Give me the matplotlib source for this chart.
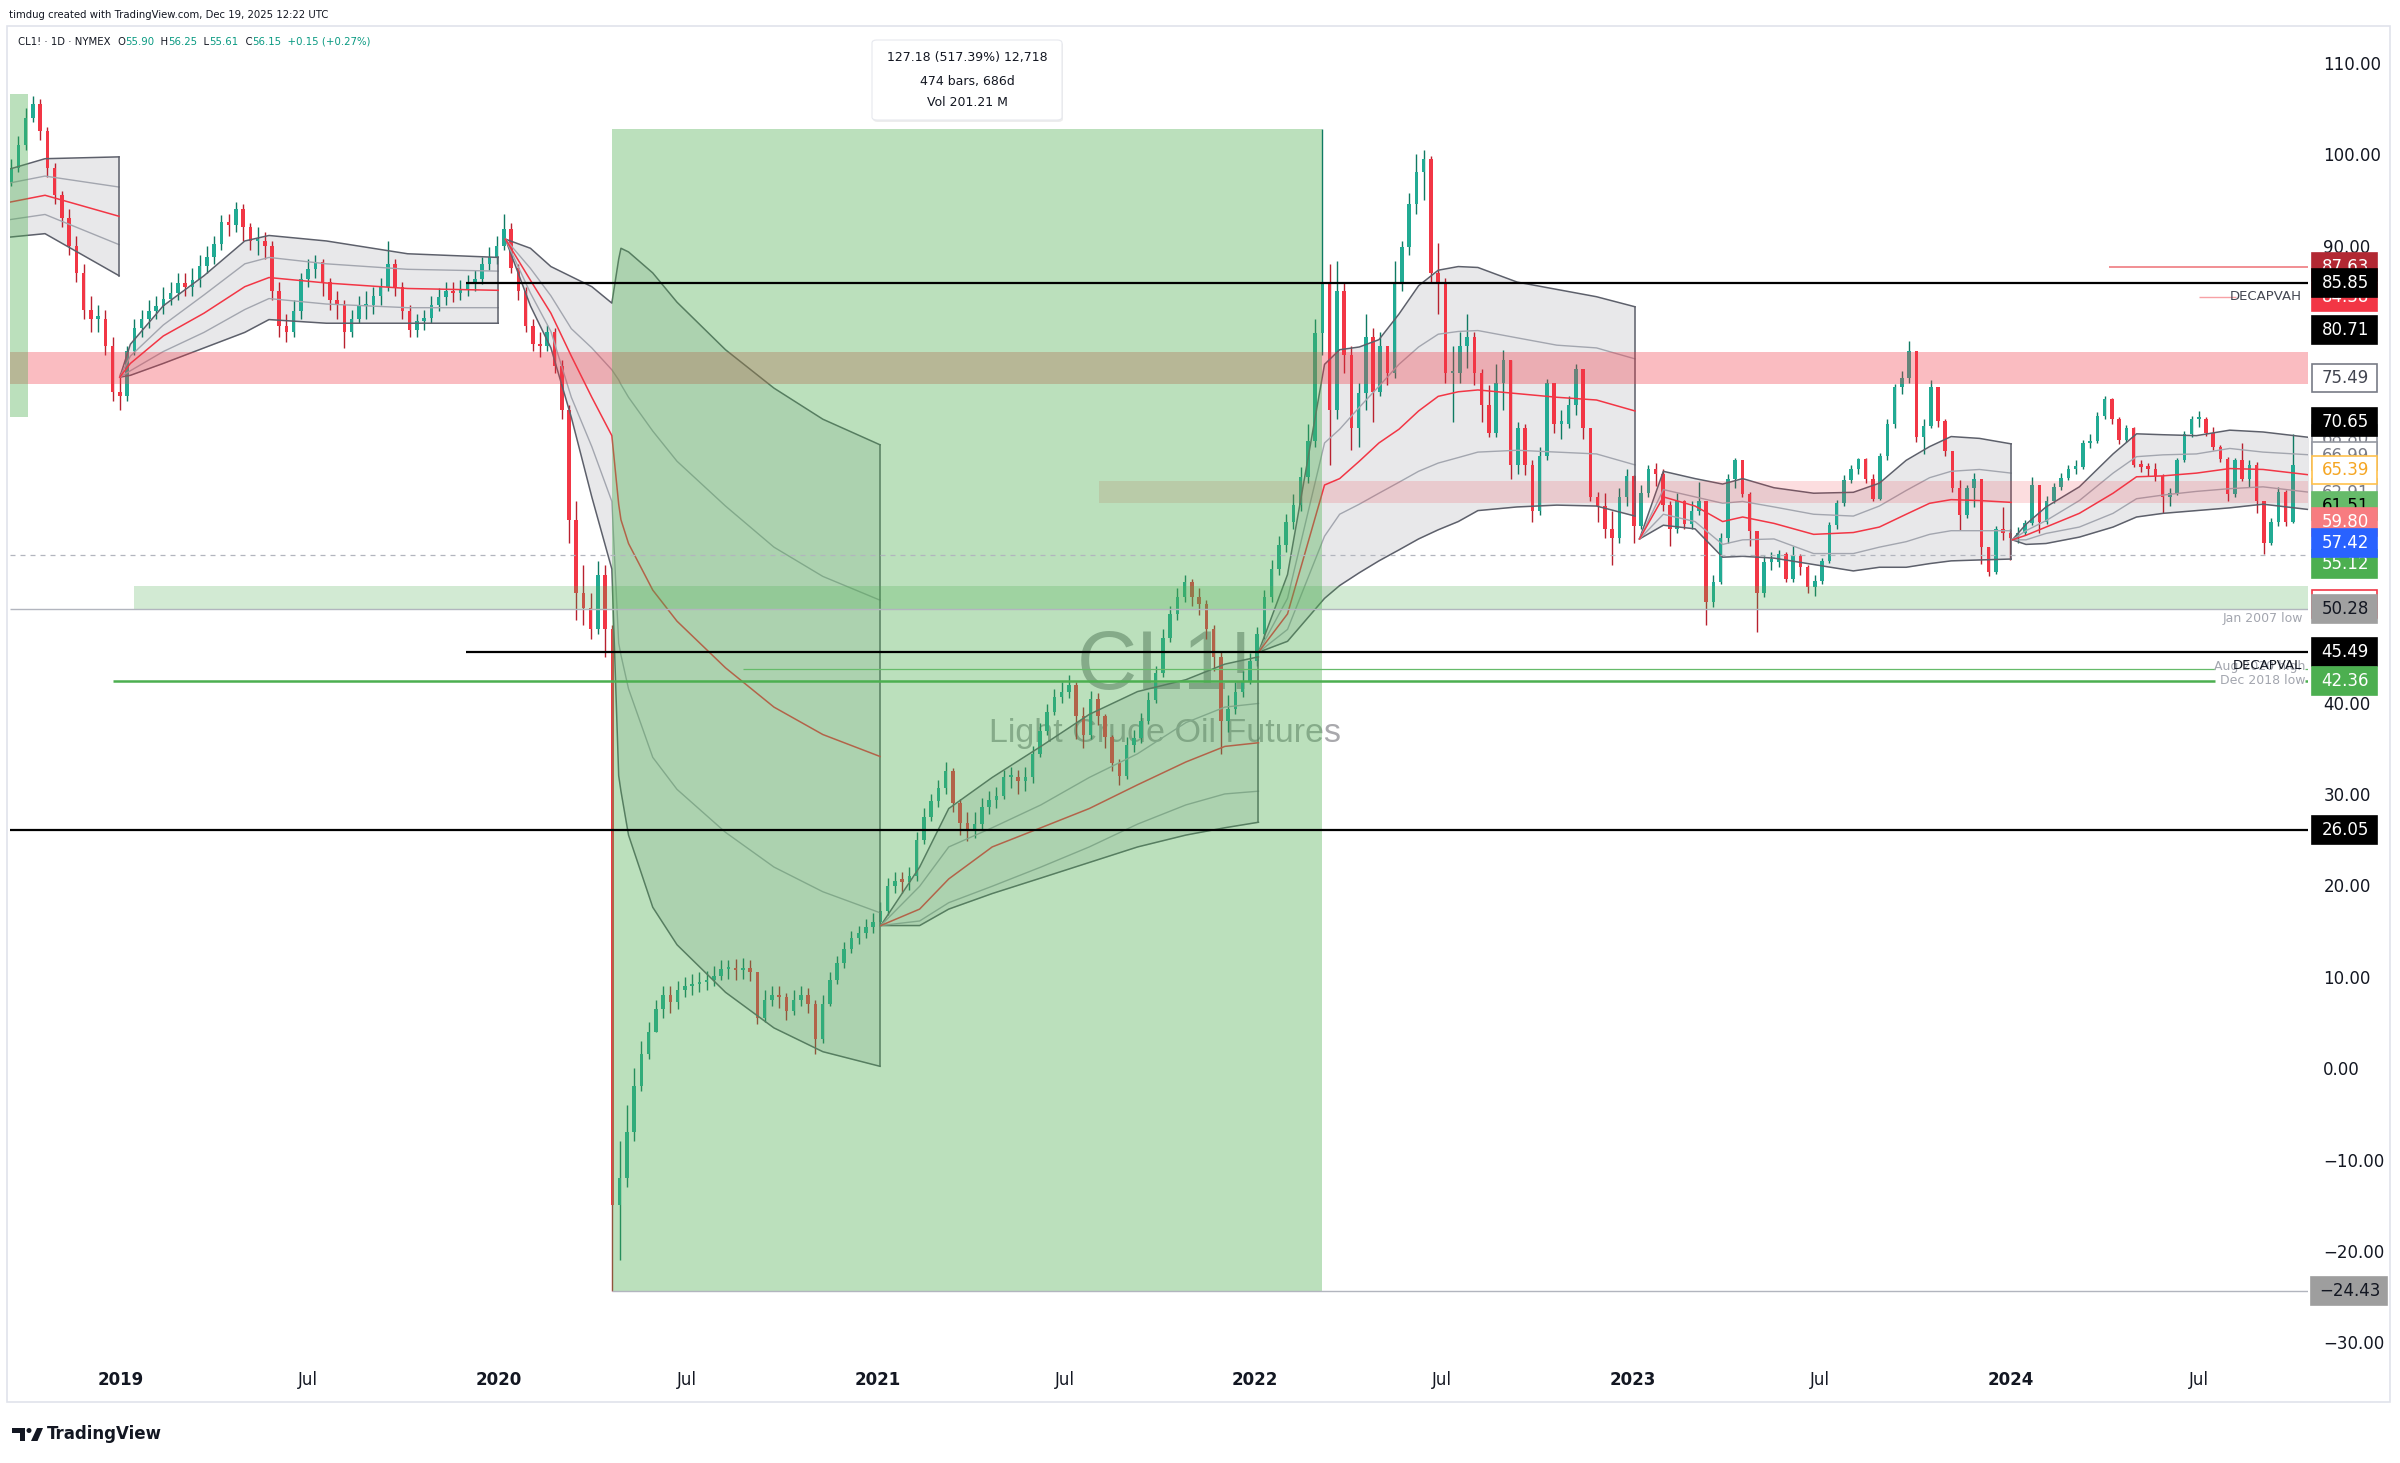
import matplotlib
matplotlib.use("Agg")
import matplotlib.pyplot as plt
import matplotlib.dates as mdates
import matplotlib.transforms as mtransforms
from matplotlib.patches import Rectangle, FancyBboxPatch, Polygon, Ellipse
from datetime import datetime
import numpy as np
import pandas as pd

plt.rcParams['font.family'] = ['DejaVu Sans']

# ---------------------------------------------------------------- data
week_start = "2018-09-17"
first_open = 97.0
closes = [
    98.5, 101, 104, 105.5, 102.5, 98.5, 95.5, 93.0, 90, 87,
    83, 82, 82, 79, 74, 73.5, 78.5, 81, 82, 82.8,
    83.4, 84.2, 84.8, 85.9, 85.5, 86.2, 87.8, 88.8, 90.2, 92.6,
    92.2, 94.0, 92, 90.5, 90.5, 90, 85, 81.2, 80.5, 82.8,
    86.3, 87.4, 88.2, 86, 84, 83.5, 80.5, 82, 83.4, 83.5,
    84.5, 85.5, 88, 85.5, 82.8, 80.8, 81.7, 82.1, 83.5, 84.4,
    85, 84.8, 85.2, 85.9, 86.3, 88, 88.8, 90, 91.8, 87.5,
    85, 81.2, 79.2, 79.0, 80.5, 76.8, 72, 60, 52, 50.3,
    48, 54, 48, -15, -12, -7, -2, 1.5, 4, 6.5,
    8, 7.2, 8.5, 9, 9.2, 9.4, 9.6, 10.1, 10.8, 10.9,
    10.7, 11, 10.5, 5.5, 7.5, 8, 7.8, 6.3, 7.5, 8,
    7, 3.2, 7, 9.6, 11.5, 13, 14.2, 14.8, 15.4, 16,
    17.2, 19.9, 20.5, 20.4, 21, 25, 27.5, 29.2, 30.6, 32.5,
    29, 26.8, 26, 26.7, 28.6, 29.3, 29.8, 31.8, 31.8, 31.4,
    31.8, 34.4, 36.9, 39, 40.6, 41.2, 41.9, 38.5, 36.5, 40.4,
    38.5, 36.2, 33.4, 32, 35.4, 36.1, 38, 40.3, 43.2, 47.1,
    49.7, 51.6, 53.2, 51.5, 50.8, 48, 45, 38, 39.3, 41.2,
    42.4, 44.5, 47.5, 51.5, 54.6, 57.2, 59.7, 61.6, 64.7, 68.6,
    80.4, 86, 72, 85, 78, 70, 73.9, 80, 74, 79,
    76, 86, 89.8, 94.5, 98.1, 99.5, 87, 86, 76, 76,
    79, 80, 76, 72.5, 69.5, 75, 77.5, 66, 70, 66,
    61, 67, 75, 70.5, 70.5, 72.5, 76.5, 70, 62.5, 61.5,
    59, 58, 62.5, 64.8, 59.3, 62.9, 65.6, 65, 61.6, 59,
    62, 59.5, 61, 62, 51, 53.2, 58, 64.5, 66.5, 62.8,
    58.8, 52, 55.4, 55.4, 56.2, 53.5, 56, 54.8, 52.6, 53.3,
    55.5, 59.4, 61.8, 64.3, 65.6, 66.6, 64.5, 62.3, 67, 70.5,
    74.5, 75.5, 78.5, 69, 70.3, 74.5, 70.8, 67.5, 63.5, 60.5,
    63.5, 64.5, 57, 54.3, 59, 58.5, 58, 58.5, 59.6, 63.8,
    59.8, 62.1, 63.6, 64.6, 65.6, 65.8, 68.4, 68.6, 71.4, 73.2,
    71, 68.7, 70, 66, 65.8, 65.6, 64.8, 62.5, 62.9, 66.5,
    69.4, 71, 71, 69.5, 68, 66.6, 62.8, 66.5, 64.5, 66,
    62, 57.5, 59.8, 63, 59.8, 66]
highs = [
    99.5, 102, 105, 106.4, 106, 103, 99, 96, 94, 91,
    88, 84.5, 83.5, 83, 80, 76, 79, 82, 83, 84,
    84.5, 85.5, 86, 87, 87, 87.5, 89, 90, 91, 93.3,
    93.5, 94.8, 94.5, 92.5, 92, 91.5, 90.5, 86, 82.5, 84,
    87, 88.5, 89, 88.5, 86.5, 85, 84, 83, 84.5, 85,
    85.5, 86.5, 90.5, 88.5, 86, 83.5, 82.5, 83, 84.5, 85.3,
    86, 86, 86.2, 86.8, 87.3, 88.8, 89.8, 91, 93.4, 92.5,
    88, 85.5, 82, 80.5, 81.3, 81, 77.5, 72.5, 62, 55,
    52, 55.5, 55, 48.5, -8, -4, 0, 3, 5, 7.5,
    9, 9, 9.5, 10, 10.3, 10.5, 10.6, 11.2, 11.8, 11.8,
    11.9, 12, 11.8, 10.5, 8.5, 9, 9, 8.2, 8.5, 9,
    8.8, 7.5, 8, 10.5, 12.3, 13.8, 15, 15.6, 16.3, 17,
    18.2, 20.8, 21.5, 21.5, 22, 25.8, 28.5, 30, 31.5, 33.5,
    32.8, 29.5, 28, 28, 29.6, 30.3, 30.8, 32.6, 33, 32.6,
    33, 35.2, 37.8, 39.8, 41.5, 42.3, 43, 42.3, 39.5, 41.3,
    41, 38.8, 36.5, 33.8, 36.2, 37, 38.9, 41.2, 44, 48,
    50.6, 52.5, 54, 53.5, 52.5, 51.2, 48.5, 45.5, 40.8, 42.2,
    43.4, 45.4, 48.3, 52.3, 55.6, 58.2, 60.6, 62.8, 65.8, 70.5,
    82, 102.75, 88, 88.3, 86, 79, 75, 82.5, 81, 80.5,
    79, 88.3, 90.5, 95.7, 100, 100.4, 99.8, 90.3, 86.5, 79,
    80.5, 82.5, 80.5, 76.5, 74.7, 77, 78.6, 77.5, 70.7, 70.5,
    66.5, 68, 75.4, 75, 72, 73.5, 77, 76.5, 70, 63,
    62.9, 61, 63.5, 65.6, 64.9, 63.8, 66, 66.2, 65.5, 62,
    62.9, 62.2, 62, 64.1, 62, 54, 58.5, 65, 66.8, 66.5,
    63, 58.8, 56, 56.5, 56.7, 56.5, 57.1, 56.3, 55, 54,
    55.8, 59.8, 62.2, 64.9, 66, 66.8, 66.8, 65, 67.3, 71,
    74.8, 76.3, 79.6, 78.5, 71, 75.3, 74.5, 71, 67.5, 64.3,
    63.8, 65.1, 64.5, 57, 59.3, 61.4, 59, 59.2, 60, 64.7,
    63.8, 62.6, 64, 65.1, 66, 66.5, 68.7, 69.4, 71.8, 73.5,
    73.3, 71.2, 70.4, 70.2, 66.5, 66.2, 66.2, 65, 63.5, 66.8,
    69.7, 71.3, 71.9, 71.2, 70.2, 68.2, 66.9, 66.8, 68.4, 66.5,
    66.3, 62.1, 60.2, 63.6, 63.3, 69.4]
lows = [
    96.5, 98, 100.5, 103.5, 101.5, 97.5, 94.5, 92, 89, 86,
    82, 80.5, 80.5, 78, 73, 72, 73, 78, 80, 81,
    82, 82.5, 83.5, 84, 84.5, 84.5, 85.5, 87, 88, 89.5,
    91, 91.5, 90.5, 89.5, 89, 88.5, 84, 80, 79.5, 80,
    82, 85.5, 86.5, 84.5, 83, 82, 78.8, 80, 81.5, 82,
    82.5, 83.5, 85, 84.5, 82, 80, 80, 80.8, 81.5, 82.8,
    83.5, 83.8, 84, 84.5, 85, 85.8, 87.3, 88, 89.5, 87,
    84, 80.5, 78.5, 77.8, 78.5, 76, 71, 57.5, 49, 48.5,
    47, 47.5, 45, -24.43, -21, -13, -8, -2.5, 1, 4,
    5.5, 6, 6.5, 7.8, 8, 8.3, 8.5, 9, 9.6, 9.8,
    9.6, 9.8, 9.5, 4.8, 5, 6.8, 6.6, 5.3, 5.8, 6.8,
    6, 1.5, 2.8, 6.8, 9.2, 11, 12.6, 13.6, 14.2, 14.8,
    15.5, 16.8, 19.2, 19.2, 19.5, 20.5, 24.5, 27, 28.6, 30,
    28, 25.5, 24.8, 25.2, 26, 27.8, 28.5, 29.4, 30.6, 30,
    30.3, 31.2, 34, 36.4, 38.6, 40, 40.5, 36, 35, 36,
    37.5, 35, 32.5, 31, 31.6, 34.6, 35.6, 37.6, 40, 42.8,
    46.6, 49, 51, 50.6, 49.6, 47, 43.5, 34.4, 36.8, 38.8,
    40.6, 42, 44, 47, 51, 54, 56.5, 59, 61, 64,
    68, 78, 66, 71, 76, 67.6, 68, 72, 70.7, 73.5,
    74.7, 75.5, 85, 89, 93.5, 95, 86, 82.5, 75, 70.7,
    75, 76.6, 74.7, 70.7, 69, 69, 72, 64.5, 65, 64.9,
    59.8, 60.5, 66.5, 69.5, 68.8, 70, 71.5, 68.8, 62, 59.8,
    58, 55.1, 57.5, 61.5, 57.4, 59, 62.5, 63.7, 61, 57.1,
    58.5, 59, 59, 60.5, 48.5, 50.5, 53, 57.5, 63.5, 62.5,
    57.1, 47.7, 51.5, 54.5, 54.8, 53.2, 53.2, 54, 52, 51.7,
    53, 55.3, 59, 61.5, 64, 65, 64, 62, 62.2, 66.5,
    70, 73.8, 75, 68.5, 67.2, 70, 70.2, 67, 63, 58.9,
    60.2, 61.4, 55.2, 53.8, 54.1, 57.8, 55.6, 57.5, 58.3, 59.4,
    58.5, 59.5, 61.8, 63.2, 64.3, 65, 65.5, 67.8, 68.4, 71,
    70.5, 68.3, 68.5, 65.8, 65.2, 64.8, 64.2, 60.7, 61.5, 62.7,
    66.3, 69, 70.2, 69.2, 67.6, 66.3, 62.1, 62.5, 64.2, 63.6,
    60.7, 56.3, 57.2, 59.3, 59.3, 59.6]

# yearly anchored VWAP: (decimal year, +2sd, +1sd, vwap, -1sd, -2sd)
vwap_2018 = [(2018.700, 98.3, 96.8, 94.7, 92.8, 90.9),
             (2018.799, 99.5, 97.6, 95.5, 93.4, 91.3),
             (2018.995, 99.7, 96.4, 93.2, 90.1, 86.7)]
vwap_2019 = [(2018.997, 75.6, 75.6, 75.6, 75.6, 75.6),
             (2019.025, 79.2, 77.9, 77.1, 76.3, 75.8),
             (2019.112, 83.4, 81.3, 80.1, 78.4, 77.1),
             (2019.220, 86.7, 84.6, 82.6, 80.5, 78.8),
             (2019.328, 90.5, 88.0, 85.5, 83.0, 80.5),
             (2019.392, 91.1, 88.7, 86.5, 84.2, 81.9),
             (2019.544, 90.5, 88.0, 85.9, 83.6, 81.5),
             (2019.759, 89.1, 87.4, 85.3, 83.2, 81.5),
             (2019.999, 88.7, 87.2, 85.1, 83.2, 81.5)]
vwap_2020 = [(2020.018, 90.7, 90.7, 90.7, 90.7, 90.7),
             (2020.084, 89.7, 87.5, 86.2, 84.8, 83.4),
             (2020.138, 87.7, 84.5, 82.6, 80.6, 78.8),
             (2020.192, 86.6, 80.9, 77.9, 73.4, 71.2),
             (2020.246, 85.5, 78.8, 73.4, 68.0, 62.5),
             (2020.299, 83.7, 76.4, 69.2, 62.0, 54.6),
             (2020.317, 88.5, 75.3, 61.7, 46.5, 32.0),
             (2020.323, 89.7, 74.8, 60.0, 45.2, 30.3),
             (2020.343, 89.3, 73.4, 57.4, 41.5, 25.5),
             (2020.407, 87.0, 69.7, 52.3, 34.0, 17.6),
             (2020.471, 83.8, 66.4, 48.9, 30.5, 13.5),
             (2020.599, 78.6, 61.5, 43.8, 25.8, 8.3),
             (2020.727, 74.4, 57.0, 39.5, 22.0, 4.4),
             (2020.856, 71.0, 53.8, 36.5, 19.3, 1.8),
             (2021.007, 68.2, 51.2, 34.1, 17.0, 0.2)]
vwap_2021 = [(2021.009, 15.6, 15.6, 15.6, 15.6, 15.6),
             (2021.112, 22.0, 19.9, 17.4, 16.1, 15.6),
             (2021.189, 28.4, 24.2, 20.7, 18.1, 17.4),
             (2021.304, 31.8, 26.3, 24.2, 19.9, 19.1),
             (2021.433, 35.2, 28.8, 26.3, 22.0, 20.8),
             (2021.561, 38.7, 31.8, 28.4, 24.2, 22.5),
             (2021.689, 41.2, 34.4, 31.0, 26.7, 24.2),
             (2021.817, 42.5, 37.8, 33.5, 28.8, 25.5),
             (2021.920, 44.2, 39.5, 35.2, 30.0, 26.3),
             (2022.009, 45.0, 39.9, 35.6, 30.3, 26.9)]
vwap_2022 = [(2022.009, 45.5, 45.5, 45.5, 45.5, 45.5),
             (2022.086, 54.0, 51.4, 49.7, 48.0, 46.7),
             (2022.184, 77.0, 68.4, 63.8, 58.2, 51.4),
             (2022.224, 78.6, 69.9, 64.5, 60.6, 52.8),
             (2022.276, 78.9, 72.3, 66.4, 61.7, 54.2),
             (2022.328, 79.7, 74.6, 68.4, 62.9, 55.5),
             (2022.381, 82.5, 77.0, 69.9, 64.1, 56.7),
             (2022.433, 85.6, 78.9, 71.9, 65.3, 57.9),
             (2022.485, 87.3, 80.3, 73.5, 66.2, 58.9),
             (2022.538, 87.7, 80.6, 74.0, 66.8, 59.8),
             (2022.590, 87.6, 80.7, 74.2, 67.4, 61.0),
             (2022.694, 86.0, 79.9, 73.8, 67.6, 61.4),
             (2022.799, 85.2, 79.1, 73.4, 67.4, 61.6),
             (2022.904, 84.4, 78.8, 73.1, 67.2, 61.5),
             (2023.006, 83.3, 77.6, 71.9, 66.0, 60.4)]
vwap_2023 = [(2023.018, 57.9, 57.9, 57.9, 57.9, 57.9),
             (2023.081, 65.3, 63.3, 62.5, 60.6, 59.4),
             (2023.165, 64.5, 62.5, 61.5, 59.8, 59.0),
             (2023.238, 63.9, 61.8, 59.8, 57.3, 55.9),
             (2023.291, 64.5, 62.0, 60.3, 57.8, 56.0),
             (2023.374, 63.5, 61.4, 59.6, 57.9, 55.8),
             (2023.479, 62.9, 60.6, 58.4, 56.3, 55.1),
             (2023.584, 63.0, 60.4, 58.6, 56.3, 54.4),
             (2023.653, 64.0, 61.5, 59.2, 57.0, 54.8),
             (2023.724, 66.5, 63.2, 60.6, 57.6, 54.8),
             (2023.786, 68.0, 64.6, 61.8, 58.4, 55.2),
             (2023.843, 69.1, 65.3, 62.2, 58.8, 55.5),
             (2023.918, 68.9, 65.5, 62.1, 58.8, 55.6),
             (2024.002, 68.3, 65.1, 61.9, 58.8, 55.7)]
vwap_2024 = [(2024.005, 57.8, 57.8, 57.8, 57.8, 57.8),
             (2024.041, 59.5, 58.8, 58.3, 57.8, 57.3),
             (2024.094, 61.4, 59.9, 59.2, 58.5, 57.4),
             (2024.182, 63.6, 62.1, 60.7, 59.2, 58.1),
             (2024.271, 67.2, 65.1, 62.9, 60.7, 59.2),
             (2024.333, 69.4, 66.9, 64.7, 62.3, 60.3),
             (2024.403, 69.3, 67.1, 64.8, 62.7, 60.7),
             (2024.491, 69.2, 67.2, 65.1, 63.1, 61.0),
             (2024.579, 69.8, 67.8, 65.6, 63.4, 61.3),
             (2024.667, 69.6, 67.4, 65.5, 63.6, 61.7),
             (2024.791, 69.0, 67.1, 64.9, 63.0, 61.1)]

# drawings (prices / dates)
measure_start, measure_end = "2020-04-20", "2022-03-07"
measure_low, measure_high = -24.43, 102.75
old_measure_start, old_measure_end = "2018-09-01", "2018-10-03"
old_measure_low, old_measure_high = 71.2, 106.6
supply_zone = (74.9, 78.3)
decap_zone = (61.8, 64.2)
decap_zone_start = "2021-08-03"
demand_zone = (50.28, 52.8)
demand_zone_start = "2019-01-14"

black_levels = [85.85, 45.49, 26.05]
black_level_starts = ["2019-11-30", "2019-11-30", None]
dec2018_low = 42.36
dec2018_start = "2018-12-24"
aug2020_high = 43.7
aug2020_start = "2020-08-24"
jan2007_low = 50.28
last_price = 56.15
red_level = 87.63
red_level_start = "2024-04-05"
decapvah = 84.38
decapvah_start = "2024-07-01"
decapval_text_price = 44.1

price_ticks = list(range(-30, 111, 10))
time_ticks = ["2019-01-01", "2019-07-01", "2020-01-01", "2020-07-01",
              "2021-01-01", "2021-07-01", "2022-01-01", "2022-07-01",
              "2023-01-01", "2023-07-01", "2024-01-01", "2024-07-01"]
time_tick_labels = ["2019", "Jul", "2020", "Jul", "2021", "Jul",
                    "2022", "Jul", "2023", "Jul", "2024", "Jul"]

axis_label_values = [87.63, 84.38, 85.85, 80.71, 75.49, 68.80, 70.65, 66.99,
                     62.91, 65.39, 61.51, 59.80, 55.12, 57.42, 50.80, 50.28,
                     45.49, 42.36, 26.05, -24.43]

# ---------------------------------------------------------------- styles
axis_label_styles = [
    ('#b22833', None, 'white'), ('#f23645', None, 'white'), ('#000000', None, 'white'),
    ('#000000', None, 'white'), ('#ffffff', '#787b86', '#434651'),
    ('#ffffff', '#9598a1', '#787b86'), ('#000000', None, 'white'),
    ('#ffffff', '#9598a1', '#787b86'), ('#ffffff', '#b2b5be', '#787b86'),
    ('#ffffff', '#ffc14d', '#f5a623'), ('#66bb6a', None, '#000000'),
    ('#f77c80', None, 'white'), ('#4caf50', None, 'white'), ('#2962ff', None, 'white'),
    ('#ffffff', '#f23645', None), ('#a0a0a0', None, '#131722'),
    ('#000000', None, 'white'), ('#4caf50', None, 'white'), ('#000000', None, 'white'),
    ('#9e9e9e', None, '#131722')]

W, H = 2400, 1463
fig = plt.figure(figsize=(W / 100, H / 100), dpi=100)
fig.patch.set_facecolor('white')

PANE_L, PANE_R, PANE_T, PANE_B = 10, 2308, 27, 1365
ax = fig.add_axes([PANE_L / W, 1 - PANE_B / H, (PANE_R - PANE_L) / W, (PANE_B - PANE_T) / H])
ax.set_autoscale_on(False)


def dy(t):
    y = int(np.floor(t))
    a, b = datetime(y, 1, 1), datetime(y + 1, 1, 1)
    return a + (b - a) * (t - y)


def dn(t):
    return mdates.date2num(dy(t))


def ds(s):
    return mdates.date2num(pd.Timestamp(s).to_pydatetime())


X0, X1 = dn(2018.7063), dn(2024.7857)
Y0, Y1 = -32.48, 113.91
ax.set_xlim(X0, X1)
ax.set_ylim(Y0, Y1)
for s in ax.spines.values():
    s.set_visible(False)

# watermark
ax.text(dn(2021.762), 43.9, "CL1!", fontsize=60, family='Liberation Sans',
        color='#a9a9ad', ha='center', va='center', zorder=0.5)
ax.text(dn(2021.762), 36.65, "Light Crude Oil Futures", fontsize=24.5,
        family='Liberation Sans', color='#a9a9ad', ha='center', va='center', zorder=0.5)

# VWAP bands
for seg in [vwap_2018, vwap_2019, vwap_2020, vwap_2021, vwap_2022, vwap_2023, vwap_2024]:
    cols = list(zip(*seg))
    t = [dn(v) for v in cols[0]]
    u2, u1, m, l1, l2 = [np.array(c) for c in cols[1:]]
    ax.fill_between(t, l2, u2, color='#787b86', alpha=0.17, lw=0, zorder=1)
    ax.plot(t, u2, color='#5d606b', lw=1.1, zorder=2.5)
    ax.plot(t, l2, color='#5d606b', lw=1.1, zorder=2.5)
    ax.plot(t, u1, color='#a3a6af', lw=1.0, zorder=2.5)
    ax.plot(t, l1, color='#a3a6af', lw=1.0, zorder=2.5)
    ax.plot(t, m, color='#f23645', lw=1.1, zorder=2.6)
    if seg is not vwap_2024:
        ax.plot([t[-1], t[-1]], [l2[-1], u2[-1]], color='#5d606b', lw=1.1, zorder=2.5)

# candles
dates = pd.date_range(week_start, periods=len(closes), freq='7D')
xd = mdates.date2num(dates.to_pydatetime())
opens = [first_open] + closes[:-1]
o = np.array(opens, float); c = np.array(closes, float)
hi = np.maximum(np.array(highs, float), np.maximum(o, c))
lo = np.minimum(np.array(lows, float), np.minimum(o, c))
up = c >= o
body_col = np.where(up, '#22ab94', '#f23645')
wick_col = np.where(up, '#0f7a62', '#b8212f')
ax.vlines(xd, lo, hi, colors=wick_col, lw=1.0, zorder=2)
ax.bar(xd, np.maximum(np.abs(c - o), 0.25), bottom=np.minimum(o, c), width=3.4,
       color=body_col, lw=0, zorder=2.1)

# zones
ax.add_patch(Rectangle((X0 - 30, supply_zone[0]), X1 - X0 + 60, supply_zone[1] - supply_zone[0],
                       color='#f23645', alpha=0.33, lw=0, zorder=3))
ax.add_patch(Rectangle((ds(decap_zone_start), decap_zone[0]), X1 - ds(decap_zone_start) + 30,
                       decap_zone[1] - decap_zone[0], color='#f23645', alpha=0.17, lw=0, zorder=3))
ax.add_patch(Rectangle((ds(demand_zone_start), demand_zone[0]), X1 - ds(demand_zone_start) + 30,
                       demand_zone[1] - demand_zone[0], color='#4caf50', alpha=0.25, lw=0, zorder=3))
ax.add_patch(Rectangle((ds(measure_start), measure_low), ds(measure_end) - ds(measure_start),
                       measure_high - measure_low, color='#4caf50', alpha=0.38, lw=0, zorder=3.2))
ax.add_patch(Rectangle((ds(old_measure_start), old_measure_low),
                       ds(old_measure_end) - ds(old_measure_start),
                       old_measure_high - old_measure_low, color='#4caf50', alpha=0.38, lw=0, zorder=3.2))

# level lines
for lv, st in zip(black_levels, black_level_starts):
    ax.hlines(lv, ds(st) if st else X0, X1, color='black', lw=1.6, zorder=4)
t_txt0, t_txt1 = dn(2024.540), dn(2024.778)
ax.hlines(dec2018_low, ds(dec2018_start), t_txt0, color='#4caf50', lw=1.8, zorder=4)
ax.hlines(dec2018_low, t_txt1, X1, color='#4caf50', lw=1.8, zorder=4)
ax.hlines(aug2020_high, ds(aug2020_start), t_txt0, color='#66bb6a', lw=0.9, zorder=4)
ax.hlines(aug2020_high, t_txt1, X1, color='#66bb6a', lw=0.9, zorder=4)
ax.hlines(jan2007_low, X0, X1, color='#b2b5be', lw=1.0, zorder=4)
ax.hlines(last_price, X0, X1, color='#b2b5be', lw=0.9, linestyles=(0, (4, 4)), zorder=4)
ax.hlines(measure_low, ds(measure_start), X1, color='#b2b5be', lw=1.0, zorder=4)
ax.hlines(red_level, ds(red_level_start), X1, color='#ef7b80', lw=1.2, zorder=4)
ax.hlines(decapvah, ds(decapvah_start), dn(2024.595), color='#f7a1a5', lw=1.0, zorder=4)

tr = mtransforms.blended_transform_factory(fig.transFigure, ax.transData)
ax.text(2302 / W, decapvah, "DECAPVAH", transform=tr, ha='right', va='center',
        fontsize=9.5, color='#434651', zorder=5)
ax.text(2305 / W, aug2020_high + 0.2, "Aug 2020 high", transform=tr, ha='right', va='center',
        fontsize=9, color='#a3a6af', zorder=5)
ax.text(2302 / W, decapval_text_price, "DECAPVAL", transform=tr, ha='right', va='center',
        fontsize=9.5, color='#131722', zorder=5.1)
ax.text(2305 / W, dec2018_low, "Dec 2018 low", transform=tr, ha='right', va='center',
        fontsize=9, color='#a3a6af', zorder=5)
ax.text(2303 / W, jan2007_low - 1.1, "Jan 2007 low", transform=tr, ha='right', va='center',
        fontsize=9, color='#a3a6af', zorder=5)

# axes ticks
ax.yaxis.tick_right()
ax.set_yticks(price_ticks)
ax.set_yticklabels([f"{v:.2f}".replace('-', '\u2212') for v in price_ticks])
ax.tick_params(axis='y', length=0, pad=11, labelsize=12, labelcolor='#131722')
ax.set_xticks([ds(s) for s in time_ticks])
ax.set_xticklabels(time_tick_labels)
ax.tick_params(axis='x', length=0, pad=4, labelsize=12, labelcolor='#131722')
for lab in ax.get_xticklabels():
    if lab.get_text() != 'Jul':
        lab.set_fontweight('bold')

# price-axis labels (each text sits right above its own box)
box_h = 28 / 9.1396
for i, (v, (fc, ec, tc)) in enumerate(zip(axis_label_values, axis_label_styles)):
    txt = f"{v:.2f}".replace('-', '\u2212')
    x0, wpx = (2311.0, 76.0) if v < 0 else (2311.7, 65.3)
    z = 10 + 2 * i
    fig.add_artist(Rectangle((x0 / W, v - box_h / 2), wpx / W, box_h, transform=tr,
                             facecolor=fc, edgecolor=ec if ec else fc, lw=1.2, zorder=z))
    if tc:
        fig.text((x0 + wpx / 2 + 1) / W, v, txt, transform=tr, ha='center', va='center',
                 fontsize=12, color=tc, zorder=z + 1)

# measurement tooltip
fig.add_artist(FancyBboxPatch((873 / W, 1 - 122 / H), 190 / W, 80 / H,
                              boxstyle='round,pad=0,rounding_size=0.002',
                              transform=fig.transFigure, facecolor='#000000', alpha=0.07,
                              lw=0, zorder=60))
fig.add_artist(FancyBboxPatch((872 / W, 1 - 120 / H), 190 / W, 80 / H,
                              boxstyle='round,pad=0,rounding_size=0.002',
                              transform=fig.transFigure, facecolor='white', edgecolor='#e6e8ee',
                              lw=0.8, zorder=61))
for yy, s in [(57, "127.18 (517.39%) 12,718"), (81, "474 bars, 686d"), (103, "Vol 201.21 M")]:
    fig.text(967 / W, 1 - yy / H, s, ha='center', va='center', fontsize=9,
             color='#131722', zorder=62)

# header + legend
fig.text(9 / W, 1 - 15 / H, "timdug created with TradingView.com, Dec 19, 2025 12:22 UTC",
         fontsize=7.3, color='#131722', va='center', ha='left')
renderer = fig.canvas.get_renderer()
pieces = [("CL1! \u00b7 1D \u00b7 NYMEX  ", '#131722'), ("O", '#131722'), ("55.90", '#089981'),
          ("  H", '#131722'), ("56.25", '#089981'), ("  L", '#131722'), ("55.61", '#089981'),
          ("  C", '#131722'), ("56.15", '#089981'), ("  +0.15 (+0.27%)", '#089981')]
xp = 18
for s, col in pieces:
    t = fig.text(xp / W, 1 - 42 / H, s, fontsize=7.3, color=col, va='center', ha='left')
    xp += t.get_window_extent(renderer).width

# frame
fig.add_artist(Rectangle((7 / W, 1 - 1402 / H), 2383 / W, 1376 / H, transform=fig.transFigure,
                         fill=False, edgecolor='#e0e3eb', lw=1.2, zorder=1))

# TradingView logo


def P(x, y):
    return (x / W, 1 - y / H)


fig.add_artist(Polygon([P(12, 1428), P(25, 1428), P(25, 1441), P(19.5, 1441), P(19.5, 1433),
                        P(12, 1433)], closed=True, transform=fig.transFigure,
                       facecolor='#131722', lw=0))
fig.add_artist(Ellipse(P(29, 1430.5), 5 / W, 5 / H, transform=fig.transFigure,
                       facecolor='#131722', lw=0))
fig.add_artist(Polygon([P(31, 1441), P(37, 1428), P(43, 1428), P(37.5, 1441)], closed=True,
                       transform=fig.transFigure, facecolor='#131722', lw=0))
fig.text(47 / W, 1 - 1434 / H, "TradingView", fontsize=12, fontweight='bold',
         color='#131722', va='center', ha='left')

fig.savefig("out.png", dpi=100, facecolor='white')
